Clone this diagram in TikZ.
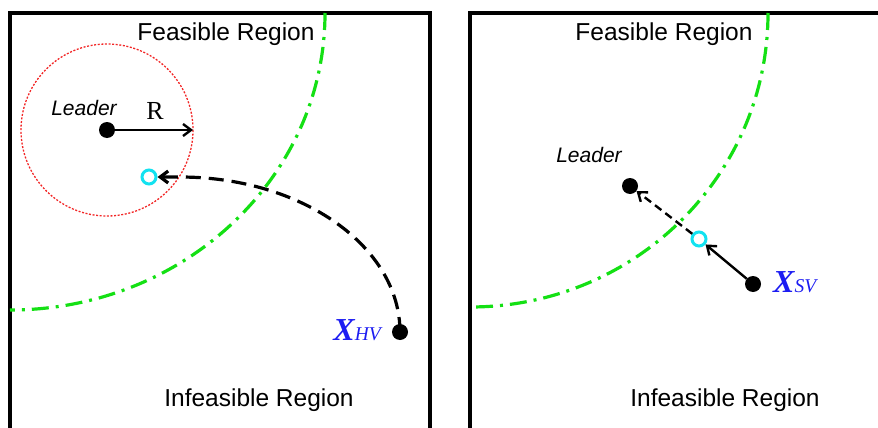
\documentclass[tikz,border=0pt]{standalone}
\usepackage{fontspec}
\setmainfont{Liberation Sans}
\newfontfamily\serifface{Liberation Serif}
\usetikzlibrary{arrows.meta}
\definecolor{fsInk}{HTML}{000000}
\definecolor{fsGreen}{HTML}{14E014}
\definecolor{fsCyan}{HTML}{12E2F0}
\definecolor{fsBlue}{HTML}{1C1CF2}
\definecolor{fsRed}{HTML}{F22626}
\tikzset{
  panel/.style   ={draw=fsInk,line width=3.2pt},
  bound/.style   ={fsGreen,line width=3.2pt,dash pattern=on 17pt off 7pt on 3pt off 7pt},
  reach/.style   ={fsRed,line width=1.3pt,dash pattern=on 2pt off 1.6pt},
  agent/.style   ={circle,fill=fsInk,inner sep=0pt,minimum size=16pt},
  proj/.style    ={circle,draw=fsCyan,line width=3pt,inner sep=0pt,minimum size=14pt},
  move/.style    ={-{Straight Barb[length=8pt,width=12pt]},fsInk,line width=2.4pt},
  movedash/.style={move,dash pattern=on 8pt off 5pt},
  trail/.style   ={-{Straight Barb[length=8pt,width=12pt]},fsInk,line width=3.2pt,
                   dash pattern=on 15pt off 8pt},
  region/.style  ={font=\fontsize{24.5}{28}\selectfont,text=fsInk,inner sep=0pt},
  tag/.style     ={font=\fontsize{21}{24}\selectfont\itshape,text=fsInk,inner sep=0pt},
  vlbl/.style    ={text=fsBlue,inner sep=0pt},
}
\newcommand{\vname}[1]{{\serifface\fontsize{32}{34}\selectfont\bfseries\itshape X}%
  {\serifface\fontsize{19.5}{21}\selectfont\itshape #1}}

\begin{document}
\begin{tikzpicture}[x=1pt,y=-1pt]
\useasboundingbox (0,0) rectangle (878,428);
%% left panel: human-driven vehicle
\draw[panel] (10,440) -- (10,13) -- (430,13) -- (430,440);
\draw[bound] (325,13) arc[start angle=0,end angle=90,x radius=315,y radius=297];
\node[region] (feasA) at (226,34) {Feasible Region};
\node[region] (infA) at (259,400) {Infeasible Region};
\node[agent] (lA) at (107,130) {};
\draw[reach] (lA) circle[radius=86];
\coordinate (rimA) at (193,130);
\draw[move] (lA) -- (rimA);
\node[tag] (tagA) at (84,108) {Leader};
\node[text=fsInk,inner sep=0pt,font=\serifface\fontsize{26}{28}\selectfont] (rA) at (155,111) {R};
\node[proj] (cA) at (149,177) {};
\node[agent] (hv) at (400,332) {};
\draw[trail] (hv.center) arc[start angle=0,end angle=-90,x radius=220,y radius=155] -- (cA);
\node[vlbl,anchor=base east] (xhv) at (381,340) {\vname{HV}};
%% right panel: autonomous vehicle
\draw[panel] (470,440) -- (470,13) -- (900,13);
\draw[bound] (768,13) arc[start angle=0,end angle=90,x radius=298,y radius=294];
\node[region] (feasB) at (664,34) {Feasible Region};
\node[region] (infB) at (725,400) {Infeasible Region};
\node[agent] (lB) at (630,186) {};
\node[tag] (tagB) at (589,155) {Leader};
\node[proj] (cB) at (699,239) {};
\node[agent] (sv) at (753,284) {};
\draw[move] (sv) -- (cB);
\draw[movedash] (cB) -- (lB);
\node[vlbl,anchor=base west] (xsv) at (773,292) {\vname{SV}};
\end{tikzpicture}
\end{document}
